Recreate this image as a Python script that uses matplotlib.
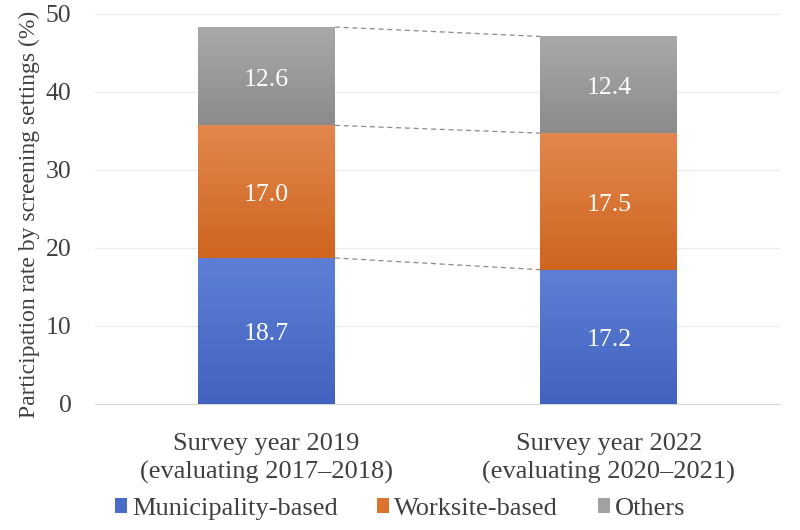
import matplotlib.pyplot as plt
import numpy as np
from matplotlib.colors import LinearSegmentedColormap

categories = ["Survey year 2019\n(evaluating 2017\u20132018)",
              "Survey year 2022\n(evaluating 2020\u20132021)"]
series_names = ["Municipality-based", "Worksite-based", "Others"]
municipality = [18.7, 17.2]
worksite = [17.0, 17.5]
others = [12.6, 12.4]
yticks = [0, 10, 20, 30, 40, 50]

series = [municipality, worksite, others]
# (top colour, bottom colour) for the gradient fill
grads = [("#5d80d6", "#4262bf"), ("#e2874e", "#cf651f"), ("#a9a9a9", "#8b8b8b")]
legend_cols = ["#4a6cc8", "#dc7430", "#a2a2a2"]

plt.rcParams['font.family'] = ['Liberation Serif', 'DejaVu Serif']

fig = plt.figure(figsize=(8, 5.3), dpi=100)
ax = fig.add_axes([0.119, 0.238, 0.856, 0.736])

x = np.arange(len(categories))
width = 0.40
bottom = np.zeros(len(categories))
tops = []
for vals, (ctop, cbot), lc, name in zip(series, grads, legend_cols, series_names):
    vals = np.array(vals)
    bars = ax.bar(x, vals, width, bottom=bottom, color=lc, label=name,
                  edgecolor="none", zorder=2)
    cmap = LinearSegmentedColormap.from_list("g", [cbot, ctop])
    for b in bars:
        x0, y0 = b.get_x(), b.get_y()
        w, h = b.get_width(), b.get_height()
        im = ax.imshow(np.linspace(0, 1, 100).reshape(-1, 1), cmap=cmap,
                       origin="lower", aspect="auto",
                       extent=(x0, x0 + w, y0, y0 + h), zorder=3)
        im.set_clip_path(b)
        ax.annotate(f"{h:.1f}", (x0 + w / 2, y0 + h / 2), xytext=(0, -2.5),
                    textcoords="offset points", ha="center", va="center",
                    color="white", fontsize=18.5, zorder=4)
    bottom = bottom + vals
    tops.append(bottom.copy())

# dashed connector lines between the stacked segments
for t in tops:
    ax.plot([x[0] + width / 2, x[1] - width / 2], [t[0], t[1]],
            ls=(0, (4, 3)), color="#8a8a8a", lw=0.9, zorder=1)

ax.set_xlim(-0.5, 1.5)
ax.set_ylim(0, 50)
ax.set_yticks(yticks)
ax.set_xticks(x)
ax.set_xticklabels(categories, fontsize=19, color="#404040", linespacing=1.35)
ax.tick_params(axis="y", labelsize=18.5, labelcolor="#404040", length=0, pad=17)
ax.tick_params(axis="x", length=0, pad=21)
ax.yaxis.grid(True, color="#ececec", lw=0.9, zorder=0)
ax.set_axisbelow(True)
for s in ["top", "right", "left"]:
    ax.spines[s].set_visible(False)
ax.spines["bottom"].set_color("#d9d9d9")
ax.set_ylabel("Participation rate by screening settings (%)", fontsize=17,
              color="#404040")
ax.yaxis.set_label_coords(-0.081, 0.485)

fig.legend(*ax.get_legend_handles_labels(), loc="center",
           bbox_to_anchor=(0.5, 1 - 509 / 530), ncol=3,
           frameon=False, fontsize=19, handlelength=0.45, handleheight=0.5,
           handletextpad=0.2, columnspacing=1.5, labelcolor="#404040")

plt.savefig("out.png")
